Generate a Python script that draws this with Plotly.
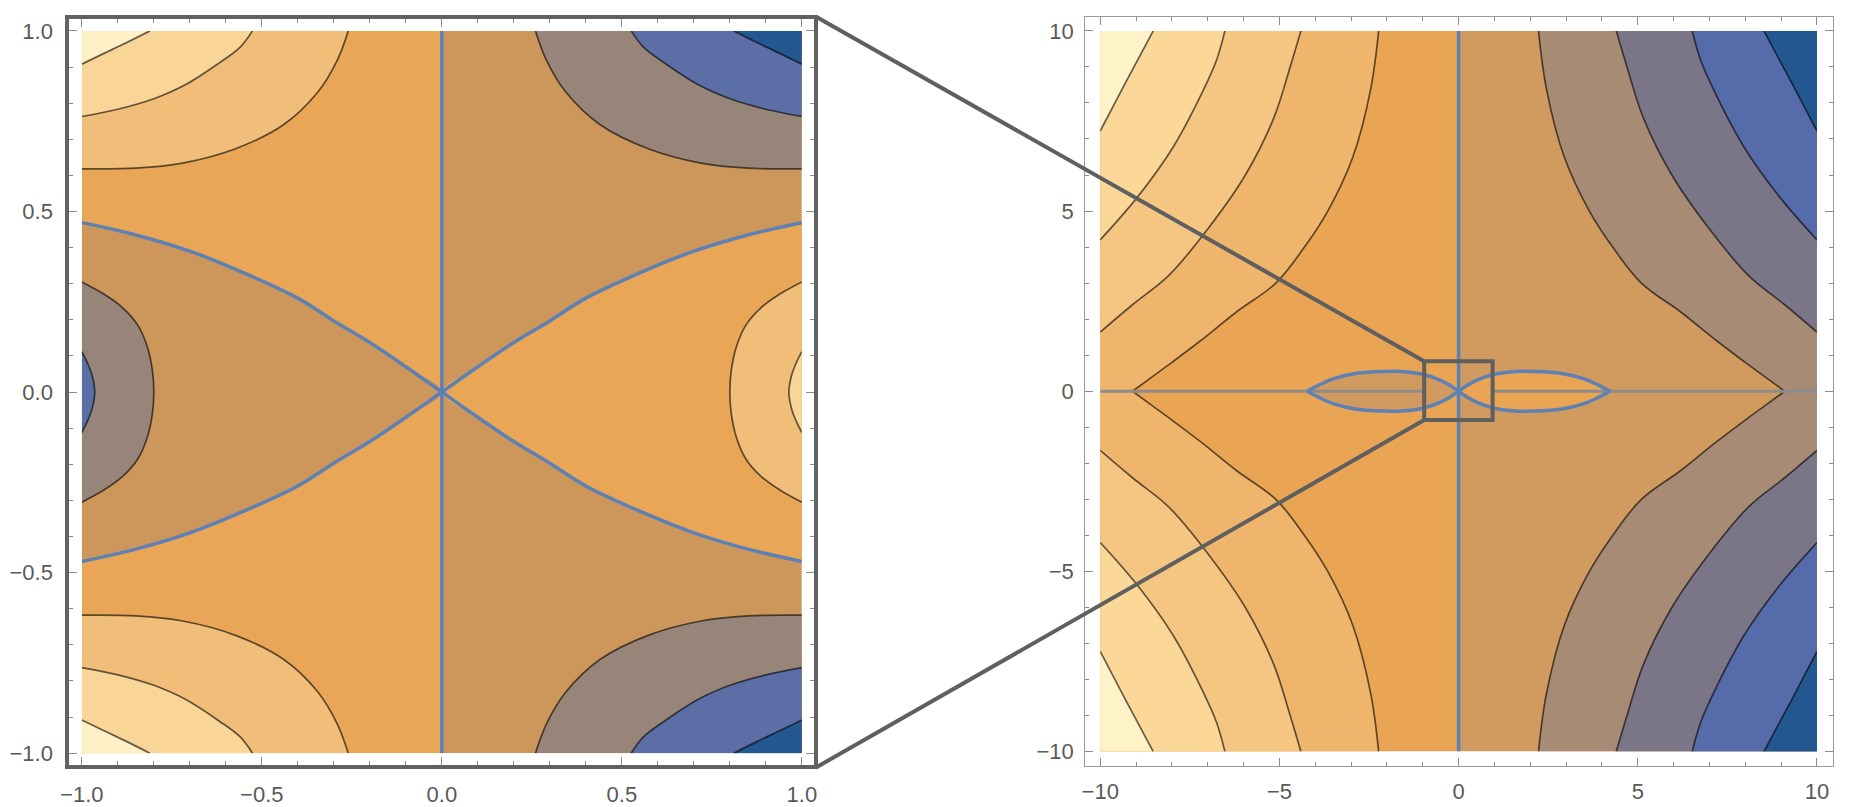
import plotly.graph_objects as go

# Values. Only the upper-left quadrant of every curve
# is stored: both panels are mirror-symmetric in x and in y, the colours flip
# across x = 0.

# ---- zoomed panel, x and y in [-1, 1]
ZOOM_LIM = 1.0
ZOOM_CORNER = [  # contours from the x = -1 edge to the y = 1 edge, inner to outer
    [(-1.0, 0.618), (-0.85, 0.620), (-0.72, 0.634), (-0.575, 0.673), (-0.44, 0.740),
     (-0.345, 0.830), (-0.29, 0.920), (-0.26, 1.0)],
    [(-1.0, 0.763), (-0.90, 0.783), (-0.80, 0.812), (-0.71, 0.852), (-0.62, 0.910),
     (-0.56, 0.955), (-0.526, 1.0)],
    [(-1.0, 0.908), (-0.94, 0.937), (-0.875, 0.968), (-0.811, 1.0)],
]
ZOOM_LOBES = [  # contours from the x = -1 edge down to the x axis, outer to inner
    [(-1.0, 0.305), (-0.94, 0.272), (-0.885, 0.232), (-0.845, 0.186), (-0.818, 0.125),
     (-0.804, 0.060), (-0.800, 0.0)],
    [(-1.0, 0.112), (-0.985, 0.082), (-0.972, 0.048), (-0.964, 0.0)],
]
ZOOM_ZERO = [(-1.0, 0.469), (-0.85, 0.435), (-0.70, 0.390), (-0.55, 0.330), (-0.40, 0.260),
             (-0.30, 0.197), (-0.20, 0.137), (-0.10, 0.070), (0.0, 0.0)]
ZOOM_COLORS = ["#FDF0C4", "#F9D697", "#F0BE79", "#E8A656",
               "#CD965B", "#988579", "#5B6EA5", "#245891"]
ZOOM_TICKS = [-1.0, -0.5, 0.0, 0.5, 1.0]
ZOOM_TICK_TEXT = ["\u22121.0", "\u22120.5", "0.0", "0.5", "1.0"]

# ---- full panel, x and y in [-10, 10]
FULL_LIM = 10.0
FULL_CORNER = [  # inner to outer
    [(-9.1, 0.0), (-8.55, 0.4), (-8.0, 0.8), (-7.2, 1.4), (-6.2, 2.2), (-5.1, 3.0),
     (-4.3, 4.0), (-3.65, 5.0), (-2.95, 6.5), (-2.45, 8.4), (-2.23, 10.0)],
    [(-10.0, 1.64), (-9.1, 2.4), (-8.1, 3.2), (-7.0, 4.5), (-5.95, 6.0), (-5.15, 7.6),
     (-4.7, 9.0), (-4.4, 10.0)],
    [(-10.0, 4.2), (-8.95, 5.4), (-7.95, 6.8), (-7.15, 8.3), (-6.75, 9.2), (-6.52, 10.0)],
    [(-10.0, 7.22), (-9.3, 8.55), (-8.52, 10.0)],
]
FULL_ZERO = [(-4.22, 0.0), (-3.9, 0.17), (-3.48, 0.35), (-2.84, 0.50), (-2.1, 0.55),
             (-1.6, 0.55), (-1.0, 0.47), (-0.5, 0.30), (-0.2, 0.137), (0.0, 0.0)]
FULL_COLORS = ["#FEF2C8", "#FBD898", "#F5C682", "#EFB56C", "#E9A553",
               "#D19A5E", "#A88B74", "#7B7588", "#556BAA", "#22578F"]
FULL_TICKS = [-10, -5, 0, 5, 10]
FULL_TICK_TEXT = ["\u221210", "\u22125", "0", "5", "10"]
INSET_X = (-0.96, 0.95)
INSET_Y = (-0.80, 0.83)

# ---- page geometry, pixels of the 1857 x 807 page (frame = line centres)
W, H = 1857, 807
LEFT_FRAME = (58.7, 16.7, 812.3, 770.3)
LEFT_DATA = (73.3, 31.0, 798.0, 756.0)
RIGHT_FRAME = (1082.7, 16.7, 1836.7, 769.3)
RIGHT_DATA = (1098.3, 31.0, 1819.7, 754.4)
LEFT_LW, RIGHT_LW = 4, 1.3

CONTOUR = "rgba(0,0,0,0.6)"
ZERO_BLUE = "#5E81B5"
AXIS_GRAY = "#8C8C8C"
BOX_GRAY = "#5F5F5F"
TICK = "#8C8C8C"
TICK_FONT = dict(family="Liberation Sans, Arial, sans-serif", size=22, color="#595959")

contour_line = dict(color=CONTOUR, width=1.7, shape="spline")
hidden_line = dict(width=0, shape="spline")

fig = go.Figure()


def mirror(pts, sx=1, sy=1):
    return [(sx * x, sy * y) for x, y in pts]


def closed_lobe(upper):
    return upper + [(x, -y) for x, y in reversed(upper[:-1])]


def through_origin(half):
    return half + [(-x, -y) for x, y in reversed(half[:-1])]


def corner_via(curve, lim):
    via = []
    if curve[0][0] > -lim:
        via.append((-lim, curve[0][1]))
    via.append((-lim, lim))
    return via


def trace(pts, axes, **kw):
    fig.add_trace(go.Scatter(x=[p[0] for p in pts], y=[p[1] for p in pts],
                             xaxis=axes[0], yaxis=axes[1], mode="lines",
                             hoverinfo="skip", **kw))


def band(curve, via, color, axes, line):
    # invisible boundary path, then the curve filled back to it
    trace([curve[0], *via, curve[-1]], axes, line=dict(width=0))
    trace(curve, axes, line=line, fill="tonexty", fillcolor=color)


def base(lim, lo_color, hi_color, axes):
    trace([(-lim, -lim), (0, -lim), (0, lim), (-lim, lim)], axes,
          line=dict(width=0), fill="toself", fillcolor=lo_color)
    trace([(0, -lim), (lim, -lim), (lim, lim), (0, lim)], axes,
          line=dict(width=0), fill="toself", fillcolor=hi_color)


# ---- zoomed panel
ZA = ("x2", "y2")
base(ZOOM_LIM, ZOOM_COLORS[3], ZOOM_COLORS[4], ZA)
wedge = closed_lobe(ZOOM_ZERO)
band(wedge, [], ZOOM_COLORS[4], ZA, hidden_line)
band(mirror(wedge, -1), [], ZOOM_COLORS[3], ZA, hidden_line)
for k, lobe in enumerate(ZOOM_LOBES):
    full = closed_lobe(lobe)
    band(full, [], ZOOM_COLORS[5 + k], ZA, contour_line)
    band(mirror(full, -1), [], ZOOM_COLORS[2 - k], ZA, contour_line)
for k, c in enumerate(ZOOM_CORNER):
    via = corner_via(c, ZOOM_LIM)
    for sy in (1, -1):
        band(mirror(c, 1, sy), mirror(via, 1, sy), ZOOM_COLORS[2 - k], ZA, contour_line)
        band(mirror(c, -1, sy), mirror(via, -1, sy), ZOOM_COLORS[5 + k], ZA, contour_line)
zero = through_origin(ZOOM_ZERO)
for sy in (1, -1):
    trace(mirror(zero, 1, sy), ZA, line=dict(color=ZERO_BLUE, width=3.5, shape="spline"))
trace([(0, -ZOOM_LIM), (0, ZOOM_LIM)], ZA, line=dict(color=ZERO_BLUE, width=3.5))

# ---- full panel
FA = ("x4", "y4")
base(FULL_LIM, FULL_COLORS[4], FULL_COLORS[5], FA)
lens = closed_lobe(FULL_ZERO)
band(lens, [], FULL_COLORS[5], FA, hidden_line)
band(mirror(lens, -1), [], FULL_COLORS[4], FA, hidden_line)
for k, c in enumerate(FULL_CORNER):
    via = corner_via(c, FULL_LIM)
    for sy in (1, -1):
        band(mirror(c, 1, sy), mirror(via, 1, sy), FULL_COLORS[3 - k], FA, contour_line)
        band(mirror(c, -1, sy), mirror(via, -1, sy), FULL_COLORS[6 + k], FA, contour_line)
fig.add_trace(go.Scatter(x=[-FULL_LIM, INSET_X[0], None, INSET_X[1], FULL_LIM],
                         y=[0, 0, None, 0, 0], xaxis="x4", yaxis="y4", mode="lines",
                         line=dict(color=AXIS_GRAY, width=3), hoverinfo="skip"))
zero = through_origin(FULL_ZERO)
for sy in (1, -1):
    trace(mirror(zero, 1, sy), FA, line=dict(color=ZERO_BLUE, width=3.5, shape="spline"))
trace([(0, -FULL_LIM), (0, FULL_LIM)], FA, line=dict(color=ZERO_BLUE, width=3.5))

# empty traces so the frame subplots exist
for xa, ya in (("x", "y"), ("x3", "y3")):
    fig.add_trace(go.Scatter(x=[0], y=[0], xaxis=xa, yaxis=ya, mode="markers",
                             marker=dict(opacity=0), hoverinfo="skip"))


# ---- axes
def frame_range(lim, d0, d1, f0, f1):
    s = (d1 - d0) / (2 * lim)
    return [-lim - (d0 - f0) / s, lim + (f1 - d1) / s]


def frame_axis(rng, dom, anchor, ticks, text, lw, color, step, standoff):
    return dict(domain=dom, range=rng, anchor=anchor, showgrid=False, zeroline=False,
                showline=True, linewidth=lw, linecolor=color, mirror="ticks",
                ticks="inside", ticklen=8, tickwidth=1.2, tickcolor=TICK,
                tickmode="array", tickvals=ticks, ticktext=text, tickfont=TICK_FONT,
                ticklabelstandoff=standoff,
                minor=dict(ticks="inside", ticklen=4, tickwidth=1, tickcolor=TICK,
                           dtick=step, tick0=0, showgrid=False),
                fixedrange=True)


def data_axis(lim, dom, anchor):
    return dict(domain=dom, range=[-lim, lim], anchor=anchor, visible=False,
                showgrid=False, zeroline=False, fixedrange=True)


def panel_axes(frame, data, lw, lim):
    fx0, fx1 = frame[0] + lw / 2, frame[2] - lw / 2
    fu0, fu1 = H - frame[3] + lw / 2, H - frame[1] - lw / 2
    dx0, dx1 = data[0], data[2]
    du0, du1 = H - data[3], H - data[1]
    return (frame_range(lim, dx0, dx1, fx0, fx1), [fx0 / W, fx1 / W],
            frame_range(lim, du0, du1, fu0, fu1), [fu0 / H, fu1 / H],
            [dx0 / W, dx1 / W], [du0 / H, du1 / H])


lxr, lxd, lyr, lyd, ldx, ldy = panel_axes(LEFT_FRAME, LEFT_DATA, LEFT_LW, ZOOM_LIM)
rxr, rxd, ryr, ryd, rdx, rdy = panel_axes(RIGHT_FRAME, RIGHT_DATA, RIGHT_LW, FULL_LIM)


def to_paper(x, y):
    px = RIGHT_DATA[0] + (x + FULL_LIM) / (2 * FULL_LIM) * (RIGHT_DATA[2] - RIGHT_DATA[0])
    py = RIGHT_DATA[3] - (y + FULL_LIM) / (2 * FULL_LIM) * (RIGHT_DATA[3] - RIGHT_DATA[1])
    return px / W, 1 - py / H


top_x, top_y = to_paper(INSET_X[0], INSET_Y[1])
bot_x, bot_y = to_paper(INSET_X[0], INSET_Y[0])
shapes = [
    dict(type="rect", xref="x4", yref="y4", x0=INSET_X[0], x1=INSET_X[1],
         y0=INSET_Y[0], y1=INSET_Y[1], line=dict(color=BOX_GRAY, width=4)),
    dict(type="line", xref="paper", yref="paper", x0=LEFT_FRAME[2] / W,
         y0=1 - LEFT_FRAME[1] / H, x1=top_x, y1=top_y, line=dict(color=BOX_GRAY, width=4)),
    dict(type="line", xref="paper", yref="paper", x0=LEFT_FRAME[2] / W,
         y0=1 - LEFT_FRAME[3] / H, x1=bot_x, y1=bot_y, line=dict(color=BOX_GRAY, width=4)),
]

fig.update_layout(
    width=W, height=H, margin=dict(l=0, r=0, t=0, b=0),
    paper_bgcolor="white", plot_bgcolor="white", showlegend=False,
    xaxis=frame_axis(lxr, lxd, "y", ZOOM_TICKS, ZOOM_TICK_TEXT, LEFT_LW, "#626262", 0.1, 6),
    yaxis=frame_axis(lyr, lyd, "x", ZOOM_TICKS, ZOOM_TICK_TEXT, LEFT_LW, "#626262", 0.1, 8),
    xaxis2=data_axis(ZOOM_LIM, ldx, "y2"),
    yaxis2=data_axis(ZOOM_LIM, ldy, "x2"),
    xaxis3=frame_axis(rxr, rxd, "y3", FULL_TICKS, FULL_TICK_TEXT, RIGHT_LW, "#9A9A9A", 1, 6),
    yaxis3=frame_axis(ryr, ryd, "x3", FULL_TICKS, FULL_TICK_TEXT, RIGHT_LW, "#9A9A9A", 1, 6),
    xaxis4=data_axis(FULL_LIM, rdx, "y4"),
    yaxis4=data_axis(FULL_LIM, rdy, "x4"),
    shapes=shapes,
)

fig.write_html("out.html", config={"displayModeBar": False},
               post_script="document.body.style.margin='0';")
